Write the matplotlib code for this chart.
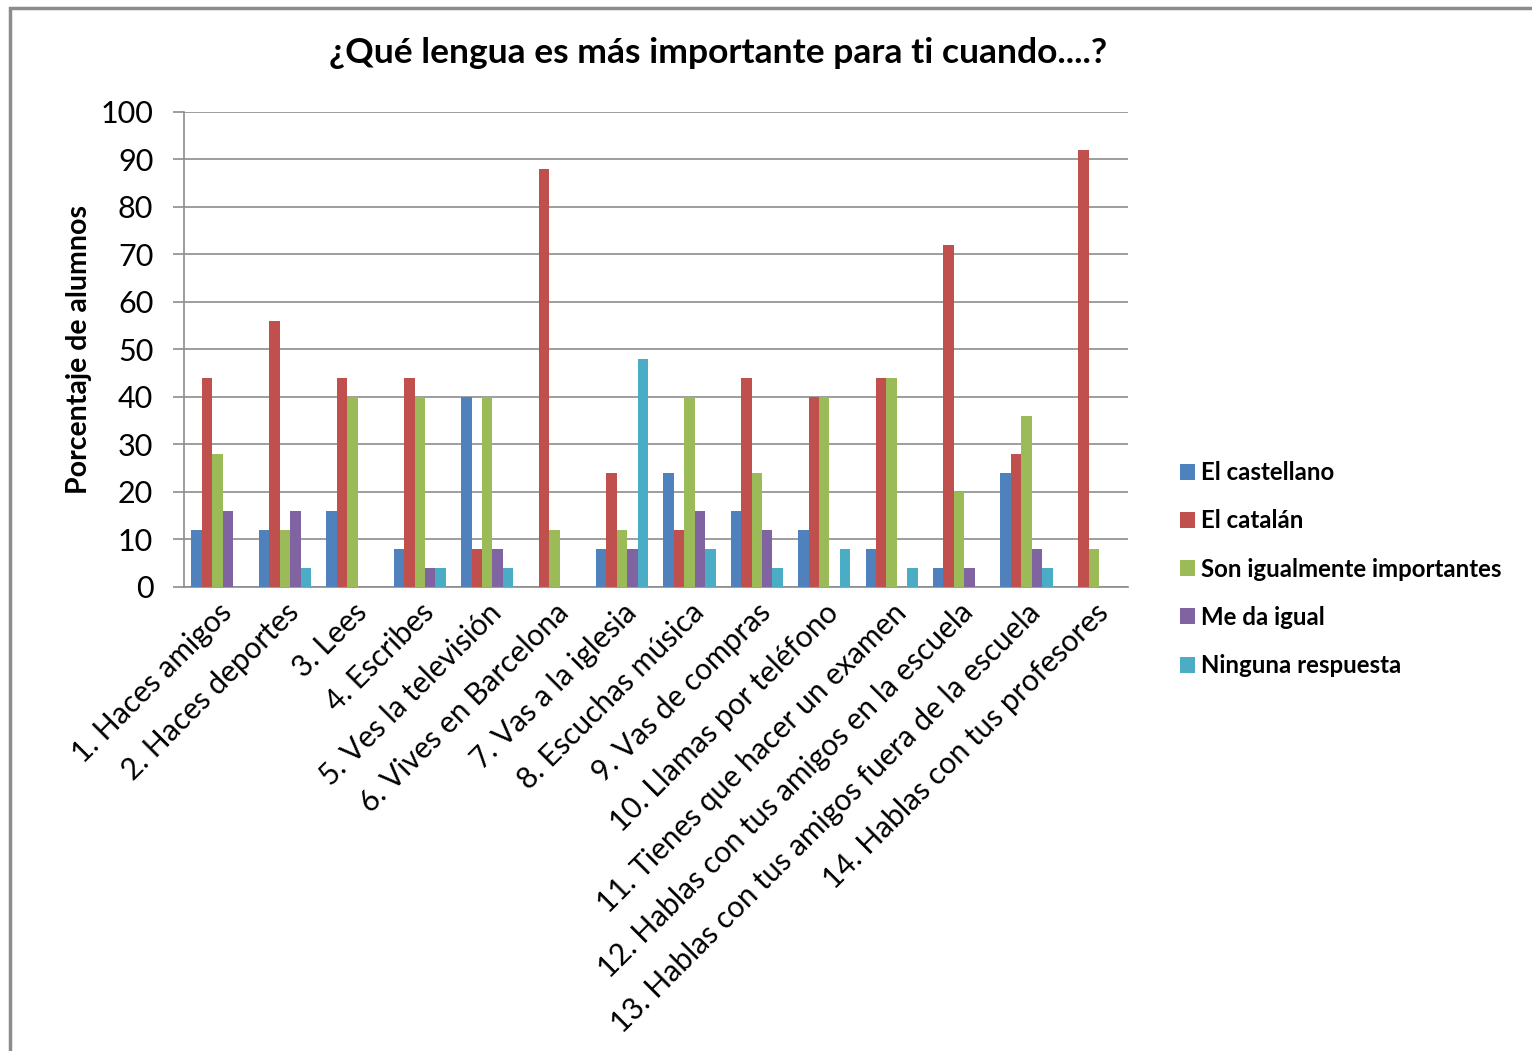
import numpy as np
import matplotlib.pyplot as plt
from matplotlib.patches import Rectangle

categories = [
    "1. Haces amigos", "2. Haces deportes", "3. Lees", "4. Escribes",
    "5. Ves la televisión", "6. Vives en Barcelona", "7. Vas a la iglesia",
    "8. Escuchas música", "9. Vas de compras", "10. Llamas por teléfono",
    "11. Tienes que hacer un examen", "12. Hablas con tus amigos en la escuela",
    "13. Hablas con tus amigos fuera de la escuela", "14. Hablas con tus profesores",
]
castellano = [12, 12, 16, 8, 40, 0, 8, 24, 16, 12, 8, 4, 24, 0]
catalan = [44, 56, 44, 44, 8, 88, 24, 12, 44, 40, 44, 72, 28, 92]
iguales = [28, 12, 40, 40, 40, 12, 12, 40, 24, 40, 44, 20, 36, 8]
me_da_igual = [16, 16, 0, 4, 8, 0, 8, 16, 12, 0, 0, 4, 8, 0]
ninguna = [0, 4, 0, 4, 4, 0, 48, 8, 4, 8, 4, 0, 4, 0]

series = [
    ("El castellano", castellano, "#4F81BD"),
    ("El catalán", catalan, "#C0504D"),
    ("Son igualmente importantes", iguales, "#9BBB59"),
    ("Me da igual", me_da_igual, "#8064A2"),
    ("Ninguna respuesta", ninguna, "#4BACC6"),
]

plt.rcParams['font.family'] = ['Lato', 'DejaVu Sans']

fig = plt.figure(figsize=(15.32, 10.51), dpi=100)
ax = fig.add_axes([0.120, 0.4415, 0.616, 0.452])

x = np.arange(len(categories))
w = 0.155
for i, (name, vals, col) in enumerate(series):
    ax.bar(x + (i - 2) * w, vals, w, color=col, label=name, zorder=3)

ax.set_xlim(-0.5, len(categories) - 0.5)
ax.set_ylim(0, 100)
ax.set_yticks(range(0, 101, 10))
ax.yaxis.grid(True, color="#8c8c8c", linewidth=1.2, zorder=0)
ax.tick_params(axis='y', labelsize=22, length=8, color="#8c8c8c", width=1.2, pad=14)
ax.set_xticks(x)
ax.set_xticklabels(categories, rotation=45, ha='right', rotation_mode='anchor', fontsize=21.5)
ax.tick_params(axis='x', length=0, pad=8)
for s in ['top', 'right']:
    ax.spines[s].set_visible(False)
ax.spines['left'].set_color("#8c8c8c")
ax.spines['bottom'].set_color("#8c8c8c")
ax.spines['left'].set_linewidth(1.2)
ax.spines['bottom'].set_linewidth(1.2)

ax.set_ylabel("Porcentaje de alumnos", fontsize=20.5, fontweight='bold', labelpad=6)
fig.text(0.469, 0.95, "¿Qué lengua es más importante para ti cuando....?",
         ha='center', va='center', fontsize=25.5, fontweight='bold')

fig.legend(loc='center left', bbox_to_anchor=(0.756, 0.4585), frameon=False,
           prop={'size': 17.3, 'weight': 'bold'}, handlelength=0.65, handleheight=0.65,
           handletextpad=0.25, labelspacing=1.05)

fig.patches.append(Rectangle((0.0065, -0.1), 1.2, 1.092, transform=fig.transFigure,
                             fill=False, edgecolor="#8c8c8c", linewidth=2.5))

fig.savefig("out.png", dpi=100)
